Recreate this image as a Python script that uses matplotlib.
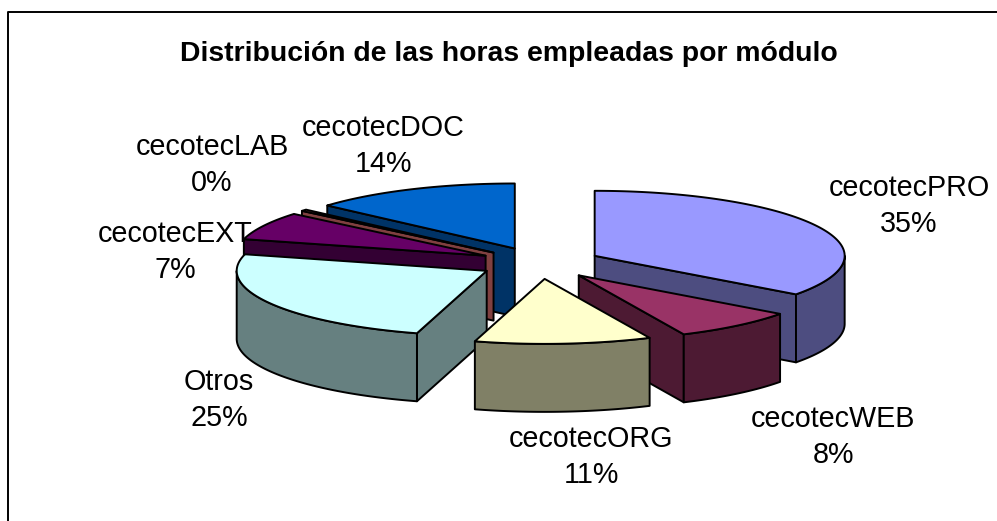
#!/usr/bin/env python3

import numpy as np
import matplotlib
matplotlib.use('Agg')
import matplotlib.pyplot as plt

plt.rcParams['font.family'] = ['Liberation Sans', 'DejaVu Sans']

title = 'Distribución de las horas empleadas por módulo'

# clockwise from 12 o'clock, like the chart
modules = ['cecotecPRO', 'cecotecWEB', 'cecotecORG', 'Otros',
           'cecotecEXT', 'cecotecLAB', 'cecotecDOC']
hours_pct = [35.1, 8.0, 11.4, 24.6, 7, 0.4, 13.5]
pct_labels = ['35%', '8%', '11%', '25%', '7%', '0%', '14%']
top_colors = ['#9999FF', '#993366', '#FFFFCC', '#CCFFFF',
              '#660066', '#FF8080', '#0066CC']
side_colors = ['#4D4D80', '#4D1A33', '#808066', '#668080',
               '#330033', '#804040', '#003366']
# label centres, in pixels
label_pos = [(909, 206), (833, 437), (591, 457), (219, 400),
             (175, 252), (212, 165), (383, 146)]

W, H = 997, 521
CX, CY = 540, 263   # pie centre before exploding
RX, RY = 250, 65
DEPTH = 68
EXPLODE = 0.245
EDGE = 1.4


def rim(a, b, ox, oy):
    t = np.radians(np.linspace(a, b, max(int(abs(b - a)) * 2, 2)))
    return ox + RX * np.sin(t), oy - RY * np.cos(t)


def face(ax, xs, ys, color, z):
    ax.fill(xs, ys, facecolor=color, edgecolor='black', lw=EDGE,
            joinstyle='round', zorder=z)


def draw_slice(ax, a, b, top, side, z):
    mid = np.radians((a + b) / 2)
    ox = CX + EXPLODE * RX * np.sin(mid)
    oy = CY - EXPLODE * RY * np.cos(mid)

    # flat side at the start of the slice
    if 180 < a < 360:
        x, y = rim(a, a, ox, oy)
        face(ax, [ox, x[0], x[0], ox], [oy, y[0], y[0] + DEPTH, oy + DEPTH], side, z)
    # flat side at the end of the slice
    if 0 < b < 180:
        x, y = rim(b, b, ox, oy)
        face(ax, [ox, x[0], x[0], ox], [oy, y[0], y[0] + DEPTH, oy + DEPTH], side, z)
    # outer wall, only the front half shows
    lo, hi = max(a, 90), min(b, 270)
    if lo < hi:
        x, y = rim(lo, hi, ox, oy)
        face(ax, np.r_[x, x[::-1]], np.r_[y, y[::-1] + DEPTH], side, z)

    x, y = rim(a, b, ox, oy)
    face(ax, np.r_[ox, x], np.r_[oy, y], top, z)


fig = plt.figure(figsize=(W / 100, H / 100), dpi=100)
ax = fig.add_axes([0, 0, 1, 1])
ax.set_xlim(0, W)
ax.set_ylim(H, 0)
ax.axis('off')

# frame is cut off by the picture on the right and at the bottom
ax.plot([8, 8, W], [H, 12, 12], color='black', lw=1.4, zorder=1)

ax.text(509, 54, title, ha='center', va='center', fontsize=20.4, fontweight='bold')

edges = np.r_[0, np.cumsum(hours_pct)] / sum(hours_pct) * 360
# back slices first, front ones last
order = [6, 5, 4, 3, 0, 1, 2]
for z, i in enumerate(order):
    draw_slice(ax, edges[i], edges[i + 1], top_colors[i], side_colors[i], 2 + z)

for name, pct, (x, y) in zip(modules, pct_labels, label_pos):
    ax.text(x, y, f'{name}\n{pct}', ha='center', va='center', fontsize=20.7,
            linespacing=1.4, zorder=20)

fig.savefig('out.png', dpi=100)
